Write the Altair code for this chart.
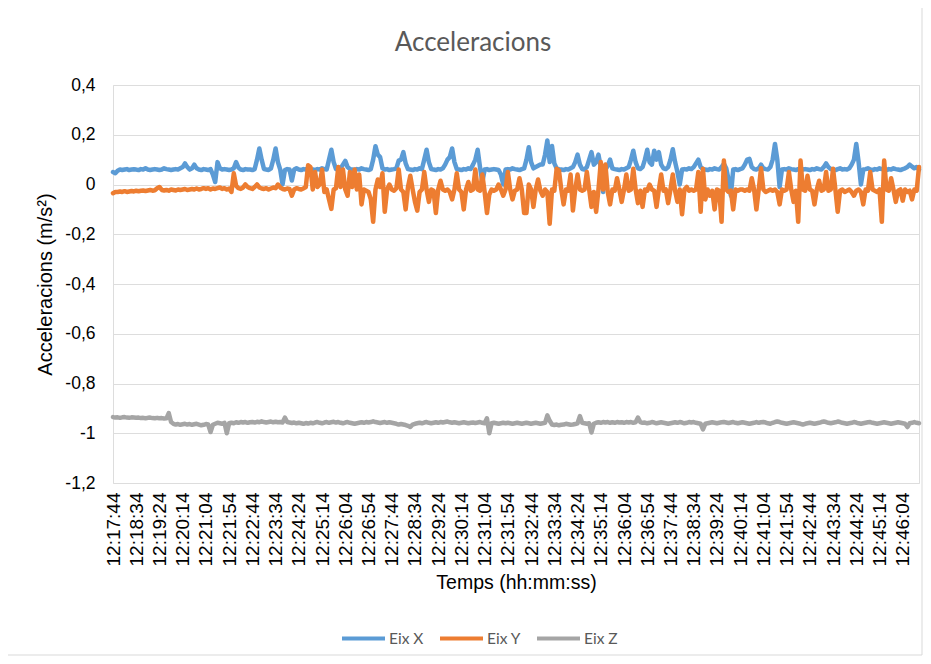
import altair as alt
import pandas as pd

title_text = "Acceleracions"
x_title = "Temps (hh:mm:ss)"
y_title = "Acceleracions (m/s²)"
series_names = ["Eix X", "Eix Y", "Eix Z"]
series_colors = ["#5B9BD5", "#ED7D31", "#A5A5A5"]
start_time = "2024-01-01 12:17:44"
end_time = "2024-01-01 12:46:39"
step = "5s"

tick_labels = [
    "12:17:44", "12:18:34", "12:19:24", "12:20:14", "12:21:04", "12:21:54", "12:22:44",
    "12:23:34", "12:24:24", "12:25:14", "12:26:04", "12:26:54", "12:27:44", "12:28:34",
    "12:29:24", "12:30:14", "12:31:04", "12:31:54", "12:32:44", "12:33:34", "12:34:24",
    "12:35:14", "12:36:04", "12:36:54", "12:37:44", "12:38:34", "12:39:24", "12:40:14",
    "12:41:04", "12:41:54", "12:42:44", "12:43:34", "12:44:24", "12:45:14", "12:46:04",
]
y_ticks = [0.4, 0.2, 0, -0.2, -0.4, -0.6, -0.8, -1.0, -1.2]

eix_x = [
    0.05, 0.045, 0.055, 0.06, 0.058, 0.06, 0.062, 0.058, 0.06, 0.061,
    0.06, 0.058, 0.062, 0.06, 0.065, 0.06, 0.058, 0.06, 0.062, 0.06,
    0.058, 0.06, 0.065, 0.062, 0.06, 0.058, 0.06, 0.062, 0.06, 0.065,
    0.07, 0.085, 0.07, 0.06, 0.065, 0.08, 0.065, 0.06, 0.058, 0.062,
    0.06, 0.058, 0.062, 0.04, 0.01, 0.09, 0.065, 0.06, 0.062, 0.06,
    0.058, 0.06, 0.065, 0.09, 0.068, 0.06, 0.058, 0.062, 0.06, 0.06,
    0.058, 0.062, 0.1, 0.145, 0.1, 0.062, 0.06, 0.058, 0.065, 0.1,
    0.145, 0.09, 0.06, 0.0, 0.058, 0.062, 0.06, 0.016, 0.06, 0.065,
    0.06, 0.058, 0.062, 0.06, 0.065, 0.062, 0.06, 0.058, 0.062, 0.06,
    0.065, 0.062, 0.06, 0.1, 0.14, 0.09, 0.062, 0.06, 0.065, 0.08,
    0.095, 0.07, 0.062, 0.06, 0.058, 0.062, 0.06, 0.065, 0.062, 0.06,
    0.058, 0.062, 0.1, 0.154, 0.12, 0.11, 0.065, 0.06, 0.062, 0.058,
    0.06, 0.062, 0.065, 0.096, 0.1, 0.13, 0.085, 0.062, 0.06, 0.058,
    0.062, 0.06, 0.065, 0.062, 0.1, 0.14, 0.09, 0.062, 0.06, 0.058,
    0.062, 0.06, 0.065, 0.08, 0.1, 0.11, 0.145, 0.09, 0.062, 0.06,
    0.058, 0.062, 0.06, 0.065, 0.062, 0.08, 0.1, 0.14, 0.07, 0.01,
    0.06, 0.062, 0.058, 0.06, 0.062, 0.06, 0.058, 0.04, 0.0, 0.06,
    0.062, 0.06, 0.065, 0.062, 0.06, 0.058, 0.062, 0.065, 0.1, 0.15,
    0.09, 0.065, 0.07, 0.075, 0.08, 0.08, 0.12, 0.177, 0.09, 0.155,
    0.085, 0.065, 0.062, 0.06, 0.058, 0.062, 0.06, 0.065, 0.07, 0.09,
    0.12, 0.08, 0.062, 0.06, 0.07, 0.1, 0.13, 0.08, 0.09, 0.12,
    0.07, -0.03, 0.06, 0.075, 0.1, 0.065, 0.062, 0.06, 0.058, 0.062,
    0.06, 0.065, 0.07, 0.1, 0.136, 0.09, 0.065, 0.062, 0.07, 0.1,
    0.14, 0.09, 0.08, 0.136, 0.1, 0.13, 0.08, 0.065, 0.062, 0.07,
    0.1, 0.142, 0.09, 0.05, 0.0, 0.06, 0.062, 0.06, 0.065, 0.062,
    0.07, 0.085, 0.1, 0.07, 0.062, 0.06, 0.058, 0.062, 0.06, 0.065,
    0.062, 0.06, 0.07, 0.083, 0.065, 0.02, -0.045, 0.06, 0.062, 0.058,
    0.062, 0.065, 0.08, 0.1, 0.103, 0.07, 0.062, 0.06, 0.065, 0.08,
    0.065, 0.062, 0.06, 0.07, 0.1, 0.163, 0.1, -0.01, 0.06, 0.062,
    0.06, 0.065, 0.062, 0.06, 0.058, 0.062, 0.065, 0.06, 0.062, 0.06,
    0.058, 0.062, 0.06, 0.065, 0.062, 0.06, 0.07, 0.085, 0.07, 0.062,
    0.06, 0.058, 0.062, 0.065, 0.06, 0.062, 0.06, 0.065, 0.08, 0.1,
    0.163, 0.09, 0.0, 0.06, 0.062, 0.065, 0.06, 0.058, 0.062, 0.06,
    0.065, 0.062, 0.06, 0.058, 0.062, 0.06, 0.065, 0.062, 0.06, 0.058,
    0.062, 0.065, 0.07, 0.08, 0.072, 0.065, 0.07, 0.06,
]

eix_y = [
    -0.035, -0.03, -0.03, -0.028, -0.03, -0.027, -0.03, -0.028, -0.026, -0.028,
    -0.025, -0.027, -0.025, -0.024, -0.026, -0.024, -0.022, -0.025, -0.023, -0.015,
    -0.01, -0.022, -0.024, -0.022, -0.025, -0.02, -0.022, -0.024, -0.02, -0.022,
    -0.02, -0.018, -0.022, -0.02, -0.018, -0.02, -0.016, -0.02, -0.018, -0.015,
    -0.018, -0.015, -0.02, -0.016, -0.018, -0.015, -0.012, -0.018, -0.015, -0.02,
    -0.016, -0.03, 0.045, -0.005, -0.015, -0.018, -0.012, 0.0, -0.01, -0.015,
    -0.018, -0.01, 0.0, -0.012, -0.016, -0.018, -0.015, -0.02, -0.016, -0.012,
    -0.015, 0.0, -0.012, -0.018, -0.02, -0.016, -0.018, -0.045, -0.02, -0.015,
    -0.018, -0.02, -0.016, -0.01, 0.077, 0.07, -0.02, 0.05, -0.01, 0.0,
    0.06, -0.03, -0.02, -0.06, -0.098, -0.02, -0.015, 0.07, -0.01, 0.06,
    -0.02, -0.045, 0.05, -0.01, 0.06, -0.02, 0.04, -0.08, -0.02, -0.025,
    -0.03, -0.06, -0.15, -0.02, 0.02, -0.01, 0.045, -0.11, -0.02, 0.0,
    -0.02, -0.025, -0.015, 0.06, -0.02, -0.03, -0.1, -0.01, 0.035, -0.02,
    -0.07, -0.105, -0.03, -0.02, 0.05, -0.02, -0.07, -0.02, -0.025, -0.115,
    -0.02, 0.015, -0.02, -0.025, -0.02, -0.03, -0.06, -0.02, 0.045, -0.02,
    -0.03, -0.1, -0.02, 0.01, -0.025, -0.02, 0.06, -0.02, -0.025, 0.04,
    -0.03, -0.115, -0.04, -0.02, -0.025, -0.02, 0.0, -0.02, -0.045, -0.02,
    0.05, -0.02, -0.06, -0.025, -0.02, 0.025, -0.02, -0.115, -0.115, 0.0,
    -0.02, -0.09, -0.02, 0.02, -0.025, -0.045, -0.02, -0.03, -0.158, -0.02,
    -0.025, 0.063, 0.056, -0.02, -0.08, -0.02, -0.025, 0.04, -0.105, -0.02,
    0.04, -0.02, -0.025, -0.02, 0.05, -0.02, -0.09, -0.03, -0.11, -0.02,
    0.09, -0.02, 0.08, -0.03, -0.08, -0.02, -0.025, 0.025, -0.02, -0.07,
    -0.02, 0.04, -0.025, -0.02, 0.063, -0.02, -0.075, -0.025, -0.09, -0.02,
    -0.025, 0.0, -0.02, -0.025, -0.09, -0.02, 0.04, -0.025, -0.02, -0.075,
    -0.02, 0.04, -0.025, -0.07, -0.02, -0.12, -0.02, -0.01, -0.025, -0.02,
    -0.025, -0.02, 0.05, -0.11, 0.063, -0.06, -0.02, -0.045, -0.025, -0.1,
    -0.02, -0.025, -0.15, 0.096, -0.02, -0.03, -0.025, -0.1, -0.02, -0.025,
    -0.02, -0.02, -0.025, -0.02, -0.025, 0.025, -0.02, -0.1, -0.02, 0.065,
    -0.02, -0.03, -0.025, -0.02, -0.025, -0.02, -0.03, -0.08, -0.02, -0.025,
    -0.02, 0.05, -0.02, -0.07, -0.025, -0.15, 0.096, -0.02, -0.025, 0.035,
    -0.02, -0.025, -0.08, -0.02, 0.015, -0.025, -0.02, 0.05, -0.025, -0.02,
    0.063, -0.02, -0.11, -0.025, -0.02, -0.03, -0.025, -0.02, -0.03, -0.045,
    -0.025, -0.02, -0.03, -0.08, -0.02, -0.025, 0.05, -0.02, -0.025, -0.03,
    -0.02, -0.15, 0.096, -0.02, -0.025, 0.025, -0.02, -0.07, -0.025, -0.02,
    -0.065, -0.02, -0.03, -0.025, -0.06, -0.02, -0.025, 0.07,
]

eix_z = [
    -0.935, -0.937, -0.936, -0.938, -0.936, -0.935, -0.937, -0.938, -0.936, -0.937,
    -0.938, -0.937, -0.939, -0.938, -0.94, -0.938, -0.937, -0.939, -0.94, -0.938,
    -0.94, -0.939, -0.941, -0.94, -0.919, -0.955, -0.962, -0.965, -0.963, -0.966,
    -0.964, -0.962, -0.965, -0.963, -0.966, -0.964, -0.962, -0.965, -0.968, -0.966,
    -0.963, -0.965, -0.995, -0.966, -0.962, -0.958, -0.96, -0.962, -0.958, -1.0,
    -0.96, -0.958, -0.96, -0.956, -0.958, -0.955, -0.957, -0.955, -0.958, -0.956,
    -0.955, -0.957, -0.954, -0.956, -0.952, -0.955, -0.957, -0.955, -0.953, -0.956,
    -0.954, -0.956, -0.955, -0.957, -0.937, -0.955, -0.957, -0.959, -0.957, -0.96,
    -0.958, -0.96, -0.962, -0.959, -0.961, -0.958, -0.96, -0.957, -0.955, -0.958,
    -0.96, -0.957, -0.955, -0.958, -0.956, -0.954, -0.957, -0.955, -0.958, -0.96,
    -0.957, -0.955, -0.958, -0.96, -0.962, -0.96, -0.958, -0.956, -0.958, -0.955,
    -0.957, -0.955, -0.952, -0.955, -0.957, -0.959, -0.957, -0.955, -0.958, -0.956,
    -0.958, -0.96, -0.962, -0.965, -0.963, -0.965, -0.967, -0.97, -0.975, -0.965,
    -0.962, -0.96, -0.958, -0.96, -0.957, -0.955, -0.958, -0.96, -0.958, -0.956,
    -0.958, -0.955, -0.957, -0.955, -0.953, -0.956, -0.958, -0.956, -0.958, -0.96,
    -0.958, -0.956, -0.958, -0.96, -0.958, -0.957, -0.959, -0.957, -0.955, -0.958,
    -0.96, -0.94, -1.0, -0.96, -0.958, -0.96, -0.962, -0.96, -0.958, -0.96,
    -0.958, -0.96, -0.962, -0.96, -0.958, -0.96, -0.962, -0.96, -0.958, -0.96,
    -0.962, -0.96, -0.958, -0.96, -0.962, -0.96, -0.958, -0.928, -0.95, -0.965,
    -0.967, -0.965, -0.968, -0.966, -0.965, -0.962, -0.964, -0.966, -0.965, -0.963,
    -0.96, -0.931, -0.958, -0.96, -0.962, -0.96, -0.997, -0.962, -0.958, -0.956,
    -0.958, -0.955, -0.957, -0.955, -0.958, -0.956, -0.958, -0.955, -0.957, -0.956,
    -0.958, -0.955, -0.957, -0.955, -0.958, -0.956, -0.937, -0.955, -0.958, -0.957,
    -0.96, -0.958, -0.955, -0.957, -0.96, -0.958, -0.956, -0.958, -0.96, -0.962,
    -0.96, -0.958, -0.956, -0.958, -0.955, -0.957, -0.96, -0.958, -0.955, -0.957,
    -0.955, -0.958, -0.96, -0.962, -0.985, -0.962, -0.96, -0.958, -0.956, -0.958,
    -0.96, -0.958, -0.956, -0.955, -0.957, -0.959, -0.957, -0.955, -0.958, -0.96,
    -0.958, -0.956, -0.958, -0.96, -0.962, -0.96, -0.958, -0.955, -0.958, -0.956,
    -0.955, -0.957, -0.96, -0.962, -0.958, -0.955, -0.953, -0.955, -0.958, -0.96,
    -0.962, -0.96, -0.958, -0.956, -0.958, -0.96, -0.962, -0.965, -0.962, -0.96,
    -0.958, -0.96, -0.962, -0.96, -0.958, -0.955, -0.953, -0.955, -0.958, -0.96,
    -0.958, -0.956, -0.953, -0.955, -0.958, -0.96, -0.962, -0.96, -0.958, -0.955,
    -0.957, -0.96, -0.962, -0.96, -0.958, -0.956, -0.955, -0.958, -0.96, -0.962,
    -0.96, -0.958, -0.956, -0.958, -0.96, -0.962, -0.96, -0.958, -0.956, -0.958,
    -0.96, -0.962, -0.975, -0.96, -0.958, -0.955, -0.958, -0.96,
]

# ---- build long table ----
frames = []
for name, vals in zip(series_names, [eix_x, eix_y, eix_z]):
    times = pd.date_range(start_time, periods=len(vals), freq=step)
    frames.append(pd.DataFrame({
        "time": times.strftime("%Y-%m-%dT%H:%M:%S"),
        "value": vals,
        "series": name,
    }))
df = pd.concat(frames, ignore_index=True)


def to_dt(ts):
    t = pd.Timestamp(ts)
    return alt.DateTime(year=t.year, month=t.month, date=t.day,
                        hours=t.hour, minutes=t.minute, seconds=t.second)


day = start_time.split(" ")[0]
tick_values = [to_dt(day + " " + s) for s in tick_labels]

FONT = "Lato"
TXT = "#595959"
GRID = "#d9d9d9"

W, H = 806, 398
PAD = {"left": 105, "top": 77, "right": 4, "bottom": 173}

lines = alt.Chart(df).mark_line(
    strokeWidth=4.5, strokeCap="round", strokeJoin="round"
).encode(
    x=alt.X(
        "time:T",
        title=x_title,
        scale=alt.Scale(domain=[to_dt(start_time), to_dt(end_time)]),
        axis=alt.Axis(
            values=tick_values, format="%H:%M:%S", labelAngle=270,
            labelPadding=9, labelOverlap=False, grid=False, domain=False,
            ticks=False, titlePadding=8, labelFontSize=19, titleFontSize=19.5,
            titleFontWeight=400,
        ),
    ),
    y=alt.Y(
        "value:Q",
        title=y_title,
        scale=alt.Scale(domain=[-1.2, 0.4], nice=False, zero=False),
        axis=alt.Axis(
            values=y_ticks,
            labelExpr="replace(toString(round(datum.value*10)/10), '.', ',')",
            labelPadding=18, grid=True, domain=False, ticks=False,
            titlePadding=9, labelFontSize=17.5, titleFontSize=20,
            titleFontWeight=400,
        ),
    ),
    color=alt.Color(
        "series:N",
        scale=alt.Scale(domain=series_names, range=series_colors),
        legend=alt.Legend(
            title=None, orient="none", legendX=227, legendY=530,
            direction="horizontal", symbolType="stroke", symbolSize=1849,
            symbolStrokeWidth=4, labelFontSize=15.5, labelColor=TXT,
            labelFont=FONT, columnPadding=8, labelOffset=2,
        ),
    ),
)

border = alt.Chart(alt.Data(values=[{}])).mark_rect(
    fill=None, stroke="#d9d9d9", strokeWidth=1
).encode(
    x=alt.value(-109), x2=alt.value(W + 3),
    y=alt.value(-78), y2=alt.value(H + 172),
)

chart = alt.layer(border, lines).properties(
    width=W, height=H,
    autosize=alt.AutoSizeParams(type="none"),
    padding=PAD,
    title=alt.TitleParams(
        text=title_text, fontSize=26, font=FONT, color=TXT,
        fontWeight=400, anchor="middle", frame="bounds", offset=-49, dx=10,
    ),
).configure_view(stroke=None).configure_axis(
    labelFont=FONT, titleFont=FONT, labelColor=TXT, titleColor=TXT,
    gridColor=GRID, gridWidth=1,
).configure(background="white")

chart.save("out.html", embed_options={"renderer": "svg", "actions": False})
